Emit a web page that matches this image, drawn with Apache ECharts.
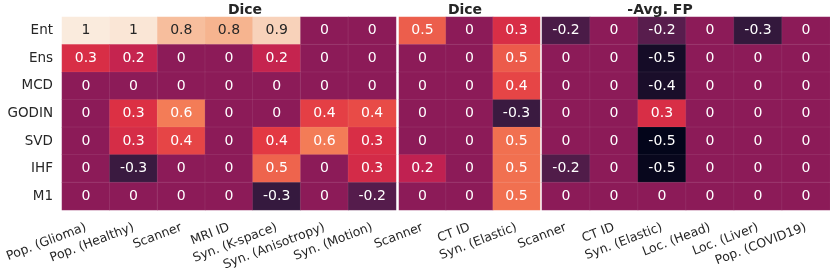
<!DOCTYPE html>
<html>
<head>
<meta charset="utf-8">
<script src="https://cdn.jsdelivr.net/npm/echarts@6/dist/echarts.min.js"></script>
<style>html,body{margin:0;padding:0;background:#fff}#c{width:830px;height:277px}</style>
</head>
<body>
<div id="c"></div>
<script>
const rows = ['Ent','Ens','MCD','GODIN','SVD','IHF','M1'];
const cols1 = ['Pop. (Glioma)','Pop. (Healthy)','Scanner','MRI ID','Syn. (K-space)','Syn. (Anisotropy)','Syn. (Motion)'];
const cols2 = ['Scanner','CT ID','Syn. (Elastic)'];
const cols3 = ['Scanner','CT ID','Syn. (Elastic)','Loc. (Head)','Loc. (Liver)','Pop. (COVID19)'];
const titles = ['Dice','Dice','-Avg. FP'];

// values per row (Ent..M1)
const vals1 = [
  [1.0, 0.98, 0.82, 0.78, 0.9, 0, 0],
  [0.3, 0.22, 0, 0, 0.22, 0, 0],
  [0, 0, 0, 0, 0, 0, 0],
  [0, 0.32, 0.58, 0, 0, 0.38, 0.42],
  [0, 0.29, 0.4, 0, 0.36, 0.58, 0.3],
  [0, -0.3, 0, 0, 0.5, 0, 0.28],
  [0, 0, 0, 0, -0.32, 0, -0.2]
];
const vals2 = [
  [0.48, 0, 0.3],
  [0, 0, 0.47],
  [0, 0, 0.4],
  [0, 0, -0.3],
  [0, 0, 0.54],
  [0.2, 0, 0.54],
  [0, 0, 0.54]
];
const vals3 = [
  [-0.24, 0, -0.19, 0, -0.33, 0],
  [0, 0, -0.46, 0, 0, 0],
  [0, 0, -0.44, 0, 0, 0],
  [0, 0, 0.3, 0, 0, 0],
  [0, 0, -0.54, 0, 0, 0],
  [-0.22, 0, -0.52, 0, 0, 0],
  [0, 0, 0, 0, 0, 0]
];

const rocket = ['#03051a','#35193e','#701f57','#ad1759','#e13342','#f37651','#f6b48f','#faebdd'];
const FONT = 'DejaVu Sans';

function fmt(v){ const r = Math.round(v*10)/10; return String(r === 0 ? 0 : r); }
function build(vals){
  const out = [];
  vals.forEach((row, y) => row.forEach((v, x) => {
    out.push({value:[x, y, v], label:{color: v >= 0.7 ? '#262626' : '#ffffff'}});
  }));
  return out;
}

const grids = [
  {left:62, width:334, top:17, height:193},
  {left:399, width:141, top:17, height:193},
  {left:542, width:288, top:17, height:193}
];
const colsAll = [cols1, cols2, cols3];
const valsAll = [vals1, vals2, vals3];
const titleCenters = [240, 460, 655];

const option = {
  backgroundColor:'#ffffff',
  animation:false,
  title: titles.map((t,i)=>({text:t, left:titleCenters[i], top:-2, textAlign:'center',
    textStyle:{fontFamily:FONT, fontSize:14, fontWeight:'bold', color:'#262626'}})),
  grid: grids,
  xAxis: colsAll.map((c,i)=>({type:'category', gridIndex:i, data:c, position:'bottom',
    axisLine:{show:false}, axisTick:{show:false}, splitLine:{show:false},
    axisLabel:{rotate:21, interval:0, margin:17, fontFamily:FONT, fontSize:12.5, color:'#262626'}})),
  yAxis: colsAll.map((c,i)=>({type:'category', gridIndex:i, data:rows, inverse:true,
    axisLine:{show:false}, axisTick:{show:false}, splitLine:{show:false},
    axisLabel:{show:i===0, margin:9, fontFamily:FONT, fontSize:13.5, color:'#262626'}})),
  visualMap: {type:'continuous', show:false, min:-0.54, max:1.0, dimension:2,
    seriesIndex:[0,1,2], inRange:{color:rocket}},
  series: valsAll.map((v,i)=>({type:'heatmap', xAxisIndex:i, yAxisIndex:i, data:build(v),
    itemStyle:{borderColor:'rgba(255,255,255,0.12)', borderWidth:0.6},
    label:{show:true, fontFamily:FONT, fontSize:14, formatter:p=>fmt(p.value[2])},
    emphasis:{disabled:true}}))
};
echarts.init(document.getElementById('c')).setOption(option);
</script>
</body>
</html>
